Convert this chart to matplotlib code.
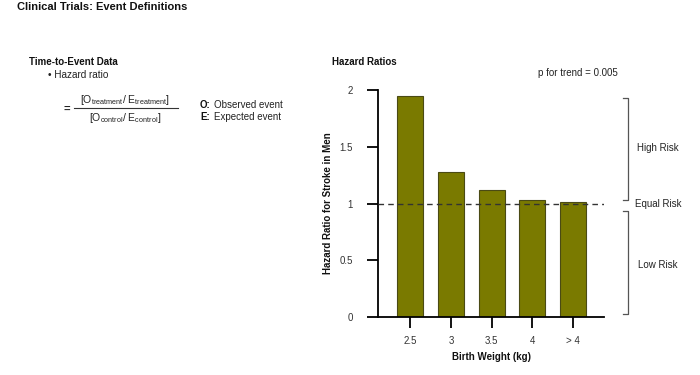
import matplotlib.pyplot as plt
from matplotlib.lines import Line2D

plt.rcParams['font.family'] = ['Liberation Sans', 'DejaVu Sans']

# data
CATEGORIES = ['2.5', '3', '3.5', '4', '> 4']
HAZARD_RATIOS = [1.95, 1.28, 1.12, 1.03, 1.01]
Y_TICKS = [0, 0.5, 1, 1.5, 2]
Y_TICK_LABELS = ['0', '0.5', '1', '1.5', '2']
RISK_BANDS = [('High Risk', 1.49), ('Equal Risk', 1.0), ('Low Risk', 0.46)]

BAR_COLOUR = '#7a7a00'
EDGE_COLOUR = '#4a4a14'
TEXT_COLOUR = '#222222'
BRACKET_COLOUR = '#555555'

fig = plt.figure(figsize=(7, 3.75), dpi=100)

# ---- left panel: definitions text ----
fig.text(17/700, 1 - 7/375, 'Clinical Trials: Event Definitions', fontsize=8,
         fontweight='bold', va='center', ha='left', color='#111111')
fig.text(29/700, 1 - 62/375, 'Time-to-Event Data', fontsize=7,
         fontweight='bold', va='center', ha='left', color='#111111')
fig.text(48/700, 1 - 75/375, u'\u2022 Hazard ratio', fontsize=7.2,
         va='center', ha='left', color=TEXT_COLOUR)
fig.text(63/700, 1 - 109/375, '=', fontsize=8, fontweight='bold',
         va='center', ha='left', color=TEXT_COLOUR)
fig.text(125/700, 1 - 100/375,
         r'[O$_{\mathregular{treatment}}$/ E$_{\mathregular{treatment}}$]',
         fontsize=7.5, va='center', ha='center', color=TEXT_COLOUR)
fig.add_artist(Line2D([74/700, 178/700], [1 - 107.5/375, 1 - 107.5/375],
                      color='#333333', lw=0.8, transform=fig.transFigure))
fig.text(125/700, 1 - 118/375,
         r'[O$_{\mathregular{control}}$/ E$_{\mathregular{control}}$]',
         fontsize=7.5, va='center', ha='center', color=TEXT_COLOUR)
for yy, key, desc in [(105, 'O:', 'Observed event'), (117, 'E:', 'Expected event')]:
    fig.text(200/700, 1 - yy/375, key, fontsize=7, fontweight='bold',
             va='center', ha='left', color='#111111')
    fig.text(214/700, 1 - yy/375, desc, fontsize=7,
             va='center', ha='left', color=TEXT_COLOUR)

# ---- right panel: bar chart ----
fig.text(332/700, 1 - 62/375, 'Hazard Ratios', fontsize=7,
         fontweight='bold', va='center', ha='left', color='#111111')

ax = fig.add_axes([378/700, 1 - 317/375, 226/700, 227/375])
x = list(range(len(CATEGORIES)))
ax.bar(x, HAZARD_RATIOS, width=0.64, color=BAR_COLOUR,
       edgecolor=EDGE_COLOUR, linewidth=0.8, zorder=2)
ax.axhline(1, color='#333333', lw=1, ls=(0, (4, 3)), zorder=3)

ax.set_xlim(-0.79, 4.76)
ax.set_ylim(0, 2)
ax.set_xticks(x)
ax.set_xticklabels(CATEGORIES)
ax.set_yticks(Y_TICKS)
ax.set_yticklabels(Y_TICK_LABELS)
for side in ['top', 'right']:
    ax.spines[side].set_visible(False)
for side in ['left', 'bottom']:
    ax.spines[side].set_linewidth(1.3)
ax.tick_params(axis='both', length=8, width=1.3, labelsize=7,
               labelcolor='#333333', pad=3)
ax.tick_params(axis='y', pad=10)
ax.tick_params(axis='x', pad=6)
ax.set_xlabel('Birth Weight (kg)', fontsize=7, fontweight='bold',
              labelpad=4, color='#111111')
ax.set_ylabel('Hazard Ratio for Stroke in Men', fontsize=7,
              fontweight='bold', labelpad=5, color='#111111')

ax.text(1.062, 1.075, 'p for trend = 0.005', transform=ax.transAxes,
        fontsize=7, ha='right', va='center', color=TEXT_COLOUR)

# risk brackets to the right of the axes
tr = ax.get_yaxis_transform()
for top, bottom in [(1.93, 1.03), (0.93, 0.03)]:
    ax.plot([1.084, 1.106, 1.106, 1.084], [top, top, bottom, bottom],
            color=BRACKET_COLOUR, lw=0.9, transform=tr, clip_on=False)
for label, yv in RISK_BANDS:
    ax.text(1.239, yv, label, transform=tr, fontsize=7, ha='center',
            va='center', color=TEXT_COLOUR)

fig.savefig('out.png', dpi=100, facecolor='white')
